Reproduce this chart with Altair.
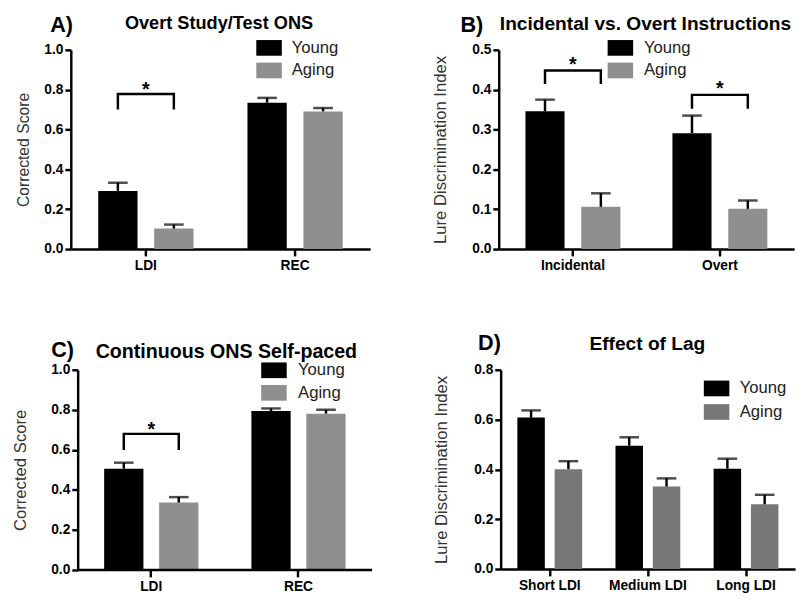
import altair as alt
import pandas as pd

GROUPS = ["Young", "Aging"]

# Panel A
A_cats = ["LDI", "REC"]
A_young = [0.292, 0.735]
A_young_sem = [0.041, 0.024]
A_aging = [0.103, 0.691]
A_aging_sem = [0.020, 0.017]
A_brackets = [("LDI", 0.70, 0.778, 0.825)]

# Panel B
B_cats = ["Incidental", "Overt"]
B_young = [0.346, 0.291]
B_young_sem = [0.029, 0.044]
B_aging = [0.106, 0.101]
B_aging_sem = [0.034, 0.021]
B_brackets = [("Incidental", 0.414, 0.448, 0.473), ("Overt", 0.352, 0.387, 0.414)]

# Panel C
C_cats = ["LDI", "REC"]
C_young = [0.506, 0.794]
C_young_sem = [0.030, 0.013]
C_aging = [0.337, 0.781]
C_aging_sem = [0.027, 0.019]
C_brackets = [("LDI", 0.60, 0.68, 0.723)]

# Panel D
D_cats = ["Short LDI", "Medium LDI", "Long LDI"]
D_young = [0.608, 0.495, 0.403]
D_young_sem = [0.029, 0.034, 0.040]
D_aging = [0.401, 0.331, 0.260]
D_aging_sem = [0.032, 0.033, 0.038]
D_brackets = []

TITLES = ["Overt Study/Test ONS", "Incidental vs. Overt Instructions",
          "Continuous ONS Self-paced", "Effect of Lag"]
LETTERS = ["A)", "B)", "C)", "D)"]

FONT = "Liberation Sans"
SWATCH = "M-1.182,-0.727L1.182,-0.727L1.182,0.727L-1.182,0.727Z"


def panel(cats, young, ysem, aging, asem, brackets, ylab, ymax, ystep, width, height,
          aging_color, x_po, x_align, off_pi, off_po, lx, ly, row_pad, lab_off,
          title, title_size, title_x, title_y, letter, letter_x, letter_y,
          ytitle_pad, ytitle_size, yaxis_off=0):
    rows = []
    for i, c in enumerate(cats):
        rows.append({"cat": c, "group": "Young", "value": young[i], "upper": young[i] + ysem[i]})
        rows.append({"cat": c, "group": "Aging", "value": aging[i], "upper": aging[i] + asem[i]})
    df = pd.DataFrame(rows)

    nt = int(round(ymax / ystep))
    ticks = [round(k * ystep, 2) for k in range(nt + 1)]

    x = alt.X("cat:N", sort=cats,
              scale=alt.Scale(domain=cats, paddingInner=0, paddingOuter=x_po, align=x_align),
              axis=alt.Axis(title=None, labelAngle=0, labelFontSize=14, labelFontWeight="bold",
                            tickSize=7, labelPadding=3, domain=(yaxis_off == 0)))
    xo = alt.XOffset("group:N", sort=GROUPS,
                     scale=alt.Scale(domain=GROUPS, paddingInner=off_pi, paddingOuter=off_po))
    y_axis = alt.Axis(title=ylab, values=ticks, format=".1f", labelFontSize=14,
                      labelFontWeight="bold", tickSize=6, labelPadding=2,
                      titleFontSize=ytitle_size, titleFontWeight="normal", titleColor="#333333",
                      titlePadding=ytitle_pad, grid=False, offset=yaxis_off)
    y = alt.Y("value:Q", scale=alt.Scale(domain=[0, ymax], nice=False, zero=True), axis=y_axis)

    base = alt.Chart(df)
    bars = base.mark_bar().encode(
        x=x, xOffset=xo, y=y,
        color=alt.Color("group:N", sort=GROUPS,
                        scale=alt.Scale(domain=GROUPS, range=["#000000", aging_color]),
                        legend=alt.Legend(orient="none", legendX=lx, legendY=ly, title=None,
                                          symbolType=SWATCH, symbolSize=484,
                                          symbolStrokeWidth=0, labelFontSize=17,
                                          labelFont=FONT, labelColor="#222222",
                                          labelOffset=lab_off, rowPadding=row_pad, padding=0)))
    err = base.mark_rule(color="black", strokeWidth=2.5).encode(
        x=x, xOffset=xo, y="value:Q", y2="upper:Q")
    cap = base.mark_tick(color="black", thickness=2.5, size=20, orient="horizontal").encode(
        x=x, xOffset=xo, y="upper:Q")
    layers = [bars, err, cap]

    if yaxis_off != 0:
        # x-axis line starting at the shifted y axis
        line = alt.Chart(pd.DataFrame({"d": [0]})).mark_rule(
            color="black", strokeWidth=2.5, strokeCap="butt").encode(
            x=alt.value(-yaxis_off), x2=alt.value(width), y=alt.value(height))
        layers.append(line)

    if brackets:
        brows = []
        srows = []
        for j, (c, lo, hi, st) in enumerate(brackets):
            brows += [
                {"id": j, "cat": c, "group": "Young", "v": lo, "o": 0},
                {"id": j, "cat": c, "group": "Young", "v": hi, "o": 1},
                {"id": j, "cat": c, "group": "Aging", "v": hi, "o": 2},
                {"id": j, "cat": c, "group": "Aging", "v": lo, "o": 3},
            ]
            srows.append({"cat": c, "v": st, "t": "*"})
        bdf = pd.DataFrame(brows)
        sdf = pd.DataFrame(srows)
        blines = alt.Chart(bdf).mark_line(color="black", strokeWidth=2.5, strokeJoin="miter",
                                          strokeCap="butt").encode(
            x=x, xOffset=xo, y="v:Q", order="o:Q", detail="id:N")
        stars = alt.Chart(sdf).mark_text(fontSize=20, fontWeight="bold", font=FONT,
                                         color="black", dy=5).encode(
            x=x, y="v:Q", text="t:N")
        layers += [blines, stars]

    lab = alt.Chart(pd.DataFrame({"t": [letter]})).mark_text(
        fontSize=22, fontWeight="bold", font=FONT, color="black", align="left",
        baseline="middle").encode(x=alt.value(letter_x), y=alt.value(letter_y), text="t:N")
    ttl = alt.Chart(pd.DataFrame({"t": [title]})).mark_text(
        fontSize=title_size, fontWeight="bold", font=FONT, color="black", align="center",
        baseline="middle").encode(x=alt.value(title_x), y=alt.value(title_y), text="t:N")
    layers += [lab, ttl]

    return alt.layer(*layers).properties(width=width, height=height)


pA = panel(A_cats, A_young, A_young_sem, A_aging, A_aging_sem, A_brackets,
           "Corrected Score", 1.0, 0.2, 305, 203, "#8f8f8f", 0.003, 0.5, 0.298, 0.482,
           191, -13, 4, 12, TITLES[0], 18.5, 151, -27, LETTERS[0], -21, -25.5, 13, 16)
pB = panel(B_cats, B_young, B_young_sem, B_aging, B_aging_sem, B_brackets,
           "Lure Discrimination Index", 0.5, 0.1, 301, 203, "#8f8f8f", 0.005, 0.5, 0.3, 0.466,
           113, -13, 4, 13, TITLES[1], 19.5, 149.5, -26.5, LETTERS[1], -39, -25.5, 22.5, 17)
pC = panel(C_cats, C_young, C_young_sem, C_aging, C_aging_sem, C_brackets,
           "Corrected Score", 1.0, 0.2, 307, 204, "#8f8f8f", 0.0233, 1.0, 0.286, 0.482,
           196, -10.5, 4, 13.5, TITLES[2], 20, 158.5, -18.5, LETTERS[2], -20, -20.5, 22, 17,
           yaxis_off=-7)
pD = panel(D_cats, D_young, D_young_sem, D_aging, D_aging_sem, D_brackets,
           "Lure Discrimination Index", 0.8, 0.2, 300, 203, "#777777", 0.0, 0.5, 0.263, 0.447,
           209, 8, 5, 12.5, TITLES[3], 19.5, 149.5, -26, LETTERS[3], -23, -27, 24, 17)

row1 = alt.hconcat(pA, pB, spacing=131, bounds="flush").resolve_scale(
    color="independent", x="independent", y="independent", xOffset="independent")
row2 = alt.hconcat(pC, pD, spacing=131, bounds="flush").resolve_scale(
    color="independent", x="independent", y="independent", xOffset="independent")

chart = alt.vconcat(row1, row2, spacing=326, bounds="flush").resolve_scale(
    color="independent", x="independent", y="independent", xOffset="independent"
).properties(padding={"left": 3, "top": 0, "right": 5, "bottom": 5},
             background="white").configure_view(stroke=None).configure_axis(
    domainColor="black", domainWidth=2.5, tickColor="black", tickWidth=2.5,
    labelColor="black", labelFont=FONT, titleFont=FONT
).configure_legend(labelFont=FONT)

chart.save("out.html", embed_options={"renderer": "svg", "actions": False})
